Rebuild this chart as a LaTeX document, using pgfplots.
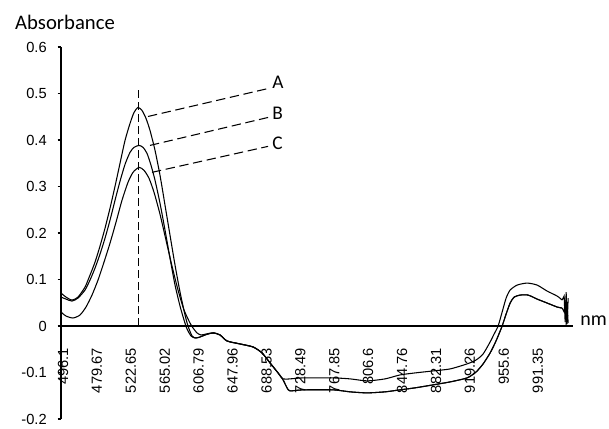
\documentclass[border=0pt]{standalone}
\usepackage{pgfplots}
\pgfplotsset{compat=1.18}
\usepackage{fontspec}
\setmainfont{Liberation Sans}
\newfontfamily\calib{Carlito}
\begin{document}
\begin{tikzpicture}
\useasboundingbox (-45.75pt,-7pt) rectangle (411pt,314.25pt);
\begin{axis}[
  at={(0,0)}, anchor=south west,
  width=384pt, height=279pt, scale only axis,
  xmin=-0.059, xmax=15.04, ymin=-0.2, ymax=0.6,
  axis x line=middle, axis y line=left,
  axis line style={-, line width=0.8pt, black},
  every inner x axis line/.append style={-},
  every outer x axis line/.append style={-},
  every inner y axis line/.append style={-},
  every outer y axis line/.append style={-},
  hide obscured x ticks=false, hide obscured y ticks=false,
  clip=false,
  tick align=outside,
  major tick length=2.5pt,
  xtick={0,1,...,14},
  xticklabels={496.1,479.67,522.65,565.02,606.79,647.96,688.53,728.49,767.85,806.6,844.76,882.31,919.26,955.6,991.35},
  xtick style={draw=none},
  ytick={-0.2,-0.1,0,0.1,0.2,0.3,0.4,0.5,0.6},
  yticklabels={-0.2,-0.1,0,0.1,0.2,0.3,0.4,0.5,0.6},
  ytick style={line width=0.8pt, black},
  ticklabel style={font=\fontsize{11}{13}\selectfont},
  xticklabel style={rotate=90, anchor=east, inner sep=0pt},
  xticklabel shift=14pt,
  yticklabel style={anchor=east, inner sep=0pt},
  yticklabel shift=8pt,
  every axis plot/.append style={line width=0.8pt, black},
]
% Curve A
\addplot[smooth, tension=0.4] coordinates {
(-0.059,0.0708)(0.088,0.0622)(0.265,0.0558)(0.442,0.0622)(0.649,0.0837)(0.796,0.1094)
(0.944,0.1373)(1.091,0.1717)(1.239,0.2103)(1.386,0.2532)(1.534,0.3004)(1.681,0.3498)
(1.829,0.3991)(1.976,0.4356)(2.094,0.4592)(2.212,0.4700)(2.330,0.4635)(2.448,0.4464)
(2.566,0.4206)(2.714,0.3777)(2.861,0.3240)(3.009,0.2597)(3.156,0.1953)(3.304,0.1309)
(3.451,0.0730)(3.599,0.0236)(3.687,0.0)(3.805,-0.0215)(3.923,-0.0258)(4.041,-0.0236)
(4.189,-0.0193)(4.336,-0.0160)(4.454,-0.0150)
(4.631,-0.0193)(4.838,-0.0322)(5.221,-0.0386)(5.605,-0.0451)(5.870,-0.0579)
(6.106,-0.0794)(6.342,-0.1009)(6.490,-0.1137)
(6.696,-0.1137)(7.080,-0.1116)(7.965,-0.1116)(8.466,-0.1137)(8.968,-0.1180)
(9.499,-0.1137)(9.941,-0.1052)(10.383,-0.1009)(10.914,-0.0966)(11.416,-0.0923)
(11.917,-0.0815)(12.183,-0.0730)(12.389,-0.0601)(12.596,-0.0343)(12.714,-0.0172)
(12.832,0.0)(12.950,0.0300)(13.068,0.0601)(13.186,0.0773)(13.392,0.0880)
(13.687,0.0923)(13.982,0.0880)(14.277,0.0751)(14.572,0.0644)(14.720,0.0558)
};
\addplot[sharp plot] coordinates {
(14.720,0.0558)(14.779,0.0644)(14.808,0.0086)(14.838,0.0730)(14.867,0.0043)(14.897,0.0600)
};
% Curve B
\addplot[smooth, tension=0.4] coordinates {
(-0.059,0.0622)(0.088,0.0579)(0.265,0.0536)(0.442,0.0601)(0.649,0.0773)(0.796,0.0987)
(0.944,0.1245)(1.091,0.1545)(1.239,0.1888)(1.386,0.2275)(1.534,0.2704)(1.681,0.3112)
(1.829,0.3476)(1.976,0.3734)(2.094,0.3841)(2.242,0.3884)(2.360,0.3841)(2.478,0.3712)
(2.596,0.3455)(2.714,0.3133)(2.861,0.2639)(3.009,0.2060)(3.156,0.1459)(3.304,0.0880)
(3.451,0.0429)(3.569,0.0129)(3.658,-0.0064)(3.776,-0.0215)(3.894,-0.0258)(4.041,-0.0236)
(4.189,-0.0193)(4.336,-0.0160)(4.454,-0.0150)
(4.631,-0.0193)(4.838,-0.0322)(5.221,-0.0386)(5.605,-0.0451)(5.870,-0.0579)
(6.106,-0.0794)(6.342,-0.1009)(6.490,-0.1159)
(6.608,-0.1330)(6.696,-0.1395)(7.080,-0.1373)(7.965,-0.1373)(8.466,-0.1416)
(8.968,-0.1438)(9.499,-0.1416)(9.941,-0.1373)(10.383,-0.1330)(10.914,-0.1266)
(11.416,-0.1202)(11.917,-0.1116)(12.183,-0.0987)(12.389,-0.0815)(12.596,-0.0579)
(12.743,-0.0365)(12.832,-0.0215)(12.950,0.0)(13.068,0.0258)(13.186,0.0494)
(13.304,0.0622)(13.481,0.0665)(13.717,0.0665)(13.982,0.0579)(14.277,0.0494)
(14.572,0.0408)(14.720,0.0386)
};
\addplot[sharp plot] coordinates {
(14.720,0.0386)(14.779,0.0300)(14.808,0.0558)(14.838,0.0021)(14.867,0.0451)(14.897,0.0064)
};
% Curve C
\addplot[smooth, tension=0.4] coordinates {
(-0.059,0.0300)(0.088,0.0215)(0.295,0.0172)(0.501,0.0236)(0.678,0.0408)(0.855,0.0665)
(1.032,0.0987)(1.209,0.1373)(1.386,0.1781)(1.563,0.2232)(1.740,0.2704)(1.917,0.3090)
(2.065,0.3305)(2.242,0.3412)(2.389,0.3348)(2.537,0.3176)(2.684,0.2876)(2.861,0.2403)
(3.038,0.1845)(3.215,0.1288)(3.392,0.0773)(3.569,0.0343)(3.746,0.0064)(3.835,-0.0043)
(3.953,-0.0150)(4.071,-0.0193)(4.218,-0.0172)(4.336,-0.0155)(4.454,-0.0150)
(4.631,-0.0193)(4.838,-0.0322)(5.221,-0.0386)(5.605,-0.0451)(5.870,-0.0579)
(6.106,-0.0794)(6.342,-0.1009)(6.490,-0.1159)
(6.608,-0.1330)(6.696,-0.1395)(7.080,-0.1373)(7.965,-0.1373)(8.466,-0.1416)
(8.968,-0.1438)(9.499,-0.1416)(9.941,-0.1373)(10.383,-0.1330)(10.914,-0.1266)
(11.416,-0.1202)(11.917,-0.1116)(12.183,-0.0987)(12.389,-0.0815)(12.596,-0.0579)
(12.743,-0.0365)(12.832,-0.0215)(12.950,0.0)(13.068,0.0258)(13.186,0.0494)
(13.304,0.0622)(13.481,0.0665)(13.717,0.0665)(13.982,0.0579)(14.277,0.0494)
(14.572,0.0408)(14.720,0.0386)
};
% dashed peak marker and leaders
\addplot[line width=0.7pt, dash pattern=on 6pt off 3pt] coordinates {(2.212,0)(2.212,0.513)};
\addplot[line width=0.8pt, dash pattern=on 7pt off 3.5pt] coordinates {(2.507,0.4506)(6.047,0.5107)};
\addplot[line width=0.8pt, dash pattern=on 7pt off 3.5pt] coordinates {(2.566,0.3884)(6.047,0.4485)};
\addplot[line width=0.8pt, dash pattern=on 7pt off 3.5pt] coordinates {(2.625,0.3305)(6.047,0.3863)};
\node[anchor=west, inner sep=0pt, font=\calib\fontsize{14.5}{16}\selectfont] at (axis cs:6.165,0.5236) {A};
\node[anchor=west, inner sep=0pt, font=\calib\fontsize{14.5}{16}\selectfont] at (axis cs:6.165,0.4571) {B};
\node[anchor=west, inner sep=0pt, font=\calib\fontsize{14.5}{16}\selectfont] at (axis cs:6.165,0.3927) {C};
\node[anchor=base west, inner sep=0pt, font=\calib\fontsize{15.5}{18}\selectfont] at (axis cs:-1.416,0.637) {Absorbance};
\node[anchor=base west, inner sep=0pt, font=\calib\fontsize{15}{17}\selectfont] at (axis cs:15.25,0.002) {nm};
\end{axis}
\end{tikzpicture}
\end{document}
